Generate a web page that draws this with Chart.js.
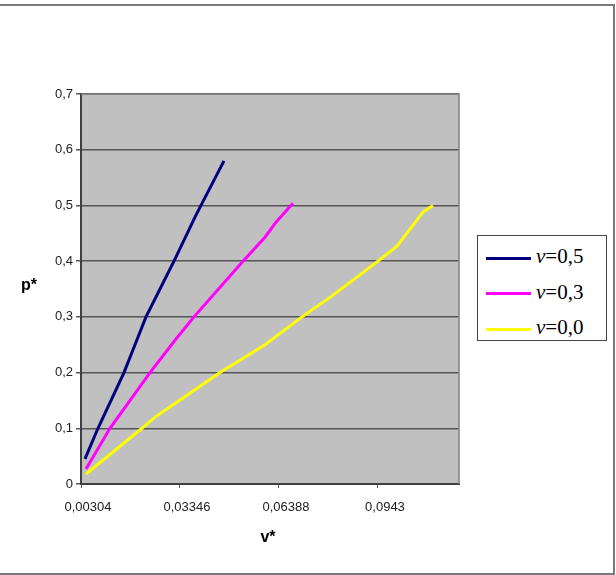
<!DOCTYPE html>
<html>
<head>
<meta charset="utf-8">
<script src="https://cdn.jsdelivr.net/npm/chart.js@4/dist/chart.umd.min.js"></script>
<style>
	html, body { margin: 0; padding: 0; background: #fff; }
	#wrap { position: relative; width: 616px; height: 575px; }
	#chart { position: absolute; left: 0; top: 0; }
	#legend {
		position: absolute; left: 477px; top: 235px; width: 130px; height: 106px;
		border: 1px solid #444; background: #fff; box-sizing: border-box;
		font-family: "Liberation Serif", "Times New Roman", serif; font-size: 21px; color: #000;
	}
	#legend .row { position: absolute; left: 8px; height: 24px; line-height: 24px; white-space: nowrap; }
	#legend .swatch { display: inline-block; width: 45px; height: 3px; vertical-align: middle; margin-right: 5px; }
	#legend i { font-style: italic; }
</style>
</head>
<body>
<div id="wrap">
	<canvas id="chart" width="616" height="575"></canvas>
	<div id="legend"></div>
</div>
<script>
'use strict'

// v* tick positions and their labels
const xTickValues = [0.00304, 0.03346, 0.06388, 0.0943];
const xTickLabels = ['0,00304', '0,03346', '0,06388', '0,0943'];
const yTickLabels = ['0', '0,1', '0,2', '0,3', '0,4', '0,5', '0,6', '0,7'];

const seriesNames = ['0,5', '0,3', '0,0'];
const seriesColors = ['#000080', '#FF00FF', '#FFFF00'];

// v = 0,5
const vBlue = [0.00427, 0.00826, 0.01625, 0.01963, 0.02301, 0.03162, 0.03807, 0.03991, 0.04698];
const pBlue = [0.045, 0.10, 0.20, 0.25, 0.30, 0.40, 0.479, 0.50, 0.58];
// v = 0,3
const vPink = [0.00458, 0.01195, 0.02424, 0.03192, 0.03776, 0.05282, 0.05958, 0.06296, 0.06818];
const pPink = [0.027, 0.10, 0.20, 0.258, 0.30, 0.40, 0.443, 0.47, 0.504];
// v = 0,0
const vYellow = [0.00458, 0.02178, 0.02578, 0.04575, 0.05958, 0.07095, 0.07955, 0.08662, 0.09430, 0.10014, 0.10813, 0.11120];
const pYellow = [0.018, 0.10, 0.12, 0.20, 0.25, 0.30, 0.335, 0.366, 0.40, 0.427, 0.488, 0.50];

const xs = [vBlue, vPink, vYellow];
const ys = [pBlue, pPink, pYellow];

const datasets = seriesNames.map((name, i) => ({
	label: 'v=' + name,
	data: xs[i].map((x, j) => ({ x: x, y: ys[i][j] })),
	borderColor: seriesColors[i],
	backgroundColor: seriesColors[i],
	borderWidth: 3,
	pointRadius: 0,
	tension: 0,
	showLine: true,
}));

// legend in html so the italic v can be kept
const legend = document.getElementById('legend');
seriesNames.forEach((name, i) => {
	const row = document.createElement('div');
	row.className = 'row';
	row.style.top = (8 + i * 35.5) + 'px';
	row.innerHTML = '<span class="swatch" style="background:' + seriesColors[i] + '"></span><i>v</i>=' + name;
	legend.appendChild(row);
});

const plotDecor = {
	id: 'plotDecor',
	beforeDraw(chart) {
		const { ctx, chartArea: { left, top, right, bottom } } = chart;
		ctx.save();
		ctx.fillStyle = '#C0C0C0';
		ctx.fillRect(left, top, right - left, bottom - top);
		ctx.restore();
	},
	afterDatasetsDraw(chart) {
		const { ctx, chartArea: { left, top, right, bottom } } = chart;
		ctx.save();
		ctx.strokeStyle = '#808080';
		ctx.lineWidth = 1.5;
		ctx.beginPath();
		ctx.moveTo(left, top);
		ctx.lineTo(right, top);
		ctx.lineTo(right, bottom);
		ctx.stroke();
		ctx.restore();
	},
	afterDraw(chart) {
		const { ctx } = chart;
		ctx.save();
		// outer frame
		ctx.strokeStyle = '#7a7a7a';
		ctx.lineWidth = 2;
		ctx.beginPath();
		ctx.moveTo(0, 5);
		ctx.lineTo(614, 5);
		ctx.lineTo(614, 574);
		ctx.lineTo(0, 574);
		ctx.stroke();
		// axis titles
		ctx.fillStyle = '#000';
		ctx.font = 'bold 16px "Liberation Sans", Arial, sans-serif';
		ctx.textAlign = 'center';
		ctx.textBaseline = 'middle';
		ctx.fillText('p*', 29, 286);
		ctx.fillText('v*', 268, 538);
		ctx.restore();
	},
};

const tickFont = { family: '"Liberation Sans", Arial, sans-serif', size: 13 };

new Chart(document.getElementById('chart'), {
	type: 'scatter',
	data: { datasets: datasets },
	options: {
		responsive: false,
		animation: false,
		layout: { padding: { left: 0, top: 94, right: 157, bottom: 31 } },
		plugins: {
			legend: { display: false },
			tooltip: { enabled: false },
		},
		scales: {
			x: {
				type: 'linear',
				min: 0.00304,
				max: 0.1192,
				afterBuildTicks(scale) {
					scale.ticks = xTickValues.map(v => ({ value: v }));
				},
				afterFit(scale) { scale.height = 60; },
				ticks: {
					color: '#222',
					font: tickFont,
					padding: 12,
					labelOffset: 7,
					maxRotation: 0,
					autoSkip: false,
					callback: (value, index) => xTickLabels[index],
				},
				grid: {
					drawOnChartArea: false,
					drawTicks: true,
					tickLength: 4,
					color: '#555',
				},
				border: { color: '#404040', width: 2 },
			},
			y: {
				min: 0,
				max: 0.7,
				afterFit(scale) { scale.width = 81; },
				ticks: {
					stepSize: 0.1,
					color: '#222',
					font: tickFont,
					padding: 3,
					callback: (value, index) => yTickLabels[index],
				},
				grid: {
					color: '#555',
					lineWidth: 1.5,
					tickLength: 5,
				},
				border: { color: '#404040', width: 2 },
			},
		},
	},
	plugins: [plotDecor],
});
</script>
</body>
</html>
